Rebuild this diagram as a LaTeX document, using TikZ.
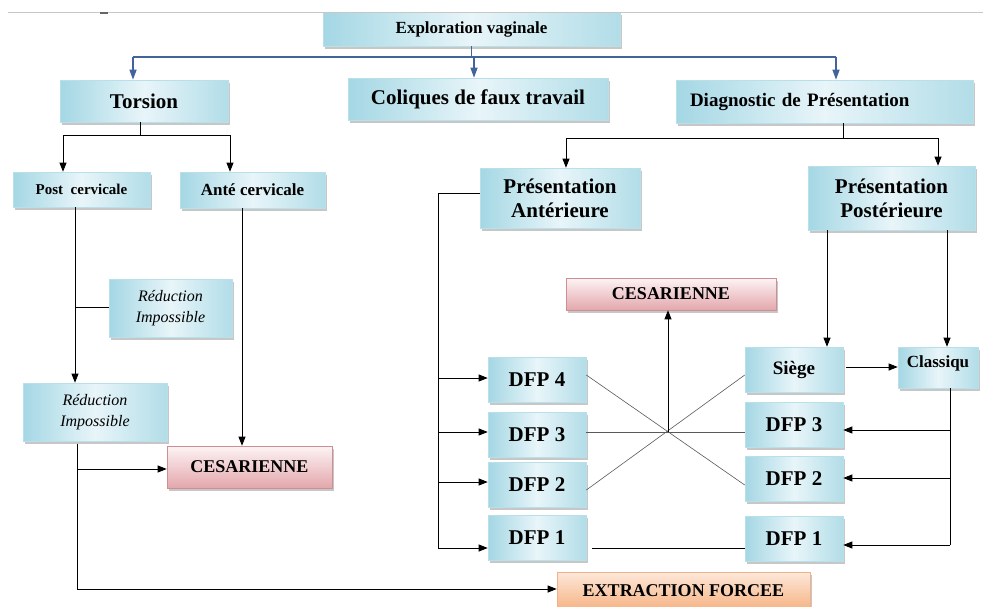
\documentclass[tikz,border=0pt]{standalone}
\usepackage{fontspec}
\setmainfont{Liberation Serif}
\usetikzlibrary{arrows.meta,shadows,calc}
\definecolor{bxL}{HTML}{A4D7E4}
\definecolor{bxM}{HTML}{E8F5F9}
\definecolor{bxR}{HTML}{B2DDE8}
\definecolor{bxD}{HTML}{B9DFE9}
\definecolor{pkT}{HTML}{FDF3F4}
\definecolor{pkB}{HTML}{E3A7AC}
\definecolor{pkD}{HTML}{CD8F94}
\definecolor{orT}{HTML}{FDE8DA}
\definecolor{orB}{HTML}{F6B485}
\definecolor{orD}{HTML}{F0B08A}
\definecolor{bline}{HTML}{41659A}
\begin{document}
\begin{tikzpicture}[x=1pt,y=-1pt,
  shd/.style={drop shadow={shadow xshift=2pt,shadow yshift=-2.5pt,fill=black,opacity=0.22}},
  bbox/.style={draw=bxD,line width=0.6pt,left color=bxL,right color=bxR,middle color=bxM,shd,inner sep=2pt,align=center},
  pbox/.style={draw=pkD,line width=0.6pt,top color=pkT,bottom color=pkB,shd,inner sep=2pt,align=center},
  obox/.style={draw=orD,line width=0.6pt,top color=orT,bottom color=orB,shd,inner sep=2pt,align=center},
  fBig/.style={font=\bfseries\fontsize{21}{24}\selectfont},
  fMid/.style={font=\bfseries\fontsize{18}{20}\selectfont},
  fSm/.style={font=\bfseries\fontsize{15}{18}\selectfont},
  fIt/.style={font=\itshape\fontsize{16}{21}\selectfont},
  conn/.style={draw=black,line width=0.8pt},
  arr/.style={conn,-{Triangle[length=9pt,width=7pt]}},
  bl/.style={draw=bline,line width=1.4pt},
  bla/.style={bl,-{Triangle[length=10pt,width=7pt]}},
  xl/.style={draw=black!65,line width=0.6pt}]
\useasboundingbox (0,0) rectangle (983,606);

% nodes
\node[bbox,font=\bfseries\fontsize{17}{20}\selectfont,minimum width=297pt,minimum height=34pt] (expl) at (471.5,29) {Exploration vaginale};
\node[bbox,fBig,minimum width=168pt,minimum height=42pt] (torsion) at (144,101) {Torsion};
\node[bbox,fBig,minimum width=260pt,minimum height=42pt] (coliques) at (478,99) {Coliques de faux travail};
\node[bbox,font=\bfseries\fontsize{19}{22}\selectfont,minimum height=43pt,text width=269pt,inner xsep=14pt,align=left] (diag) at (824.5,101.5) {Diagnostic de Présentation};
\node[bbox,fSm,minimum width=137pt,minimum height=35pt] (post) at (81.5,189.5) {Post\ \ cervicale};
\node[bbox,font=\bfseries\fontsize{17}{20}\selectfont,minimum width=145pt,minimum height=36pt] (ante) at (252.5,190) {Anté cervicale};
\node[bbox,fIt,minimum width=123pt,minimum height=58pt] (red1) at (170.5,308) {Réduction\\Impossible};
\node[bbox,fIt,minimum width=144pt,minimum height=58pt] (red2) at (95,412) {Réduction\\Impossible};
\node[pbox,fMid,minimum width=165pt,minimum height=42pt] (ces1) at (249.5,467) {CESARIENNE};
\node[obox,fMid,minimum width=253pt,minimum height=37pt] (extr) at (683.5,590.5) {EXTRACTION FORCEE};
\node[bbox,fBig,minimum width=160pt,minimum height=60pt] (pant) at (560,198) {Présentation\\Antérieure};
\node[bbox,fBig,minimum width=167pt,minimum height=64pt] (ppost) at (891.5,198) {Présentation\\Postérieure};
\node[pbox,fMid,minimum width=210pt,minimum height=32pt] (ces2) at (671,294) {CESARIENNE};
\node[bbox,fBig,minimum width=98pt,minimum height=45pt] (d4) at (537,379.5) {DFP 4};
\node[bbox,fBig,minimum width=98pt,minimum height=45pt] (d3) at (537,434.5) {DFP 3};
\node[bbox,fBig,minimum width=98pt,minimum height=45pt] (d2) at (537,485) {DFP 2};
\node[bbox,fBig,minimum width=98pt,minimum height=45pt] (d1) at (537,538) {DFP 1};
\node[bbox,font=\bfseries\fontsize{19}{22}\selectfont,minimum width=98pt,minimum height=45pt] (siege) at (794,369.5) {Siège};
\node[bbox,font=\bfseries\fontsize{17}{20}\selectfont,minimum width=80pt,minimum height=41pt,text height=12pt,text depth=12pt] (classiq) at (938,367.5) {Classiqu};
\node[bbox,fBig,minimum width=98pt,minimum height=45pt] (r3) at (794,424.5) {DFP 3};
\node[bbox,fBig,minimum width=98pt,minimum height=45pt] (r2) at (794,478.5) {DFP 2};
\node[bbox,fBig,minimum width=98pt,minimum height=45pt] (r1) at (794,539) {DFP 1};

% top screen line
\draw[draw=black!22,line width=0.8pt] (8,12) -- (983,12);
\fill[black!60] (100,12) rectangle (108,14);

% blue connectors
\coordinate (bT) at (133,57);
\coordinate (bC) at (474,57);
\coordinate (bD) at (836,57);
\draw[bl] (expl.south) -- (expl.south |- bT);
\draw[bl] (bT) -- (bD);
\draw[bla] (bT) -- (bT |- torsion.north);
\draw[bla] (bC) -- (bC |- coliques.north);
\draw[bla] (bD) -- (bD |- diag.north);

% torsion branch
\coordinate (tj) at (140,135);
\coordinate (tL) at (63,135);
\coordinate (tR) at (230,135);
\draw[conn] (tj |- torsion.south) -- (tj);
\draw[conn] (tL) -- (tR);
\draw[arr] (tL) -- (tL |- post.north);
\draw[arr] (tR) -- (tR |- ante.north);

\coordinate (pj) at (75,307);
\draw[arr] (pj |- post.south) -- (pj |- red2.north);
\draw[conn] (pj) -- (pj -| red1.west);

\coordinate (aj) at (242,300);
\draw[arr] (aj |- ante.south) -- (aj |- ces1.north);

\coordinate (rj) at (77,469);
\coordinate (rb) at (77,589);
\draw[conn] ($(rj |- red2.south)+(0,3)$) -- (rb);
\draw[arr] (rb) -- (rb -| extr.west);
\draw[arr] (rj) -- (rj -| ces1.west);

% diagnostic branch
\coordinate (dj) at (843,138);
\coordinate (dL) at (566,138);
\coordinate (dR) at (938,138);
\draw[conn] (dj |- diag.south) -- (dj);
\draw[conn] (dL) -- (dR);
\draw[arr] (dL) -- (dL |- pant.north);
\draw[arr] (dR) -- (dR |- ppost.north);

\coordinate (pa) at (438,193);
\coordinate (pa4) at (438,378);
\coordinate (pa3) at (438,432);
\coordinate (pa2) at (438,482);
\coordinate (pa1) at (438,548);
\draw[conn] (pa -| pant.west) -- (pa) -- (pa1);
\draw[arr] (pa4) -- (pa4 -| d4.west);
\draw[arr] (pa3) -- (pa3 -| d3.west);
\draw[arr] (pa2) -- (pa2 -| d2.west);
\draw[arr] (pa1) -- (pa1 -| d1.west);

\coordinate (q1) at (827,300);
\coordinate (q2) at (947,300);
\draw[arr] (q1 |- ppost.south) -- (q1 |- siege.north);
\draw[arr] (q2 |- ppost.south) -- (q2 |- classiq.north);

\coordinate (sc) at (845,367);
\draw[arr] ($(sc -| siege.east)+(3,0)$) -- (sc -| classiq.west);

\coordinate (c3) at (950,430);
\coordinate (c2) at (950,478);
\coordinate (c1) at (950,545);
\draw[conn] (c1 |- classiq.south) -- (c1);
\draw[arr] (c3) -- (c3 -| r3.east);
\draw[arr] (c2) -- (c2 -| r2.east);
\draw[arr] (c1) -- (c1 -| r1.east);

% crossing
\coordinate (X) at (668,432);
\draw[xl] ($(d4.east)+(0,-4.5)$) -- ($(r2.west)+(0,6.5)$);
\draw[xl] ($(d2.east)+(0,5)$) -- ($(siege.west)+(0,5.5)$);
\draw[xl] (d3.east |- X) -- (r3.west |- X);
\draw[arr] (X) -- (X |- ces2.south);
\draw[conn] ($(d1.east |- pa1)+(6,0)$) -- (r1.west |- pa1);
\end{tikzpicture}
\end{document}
